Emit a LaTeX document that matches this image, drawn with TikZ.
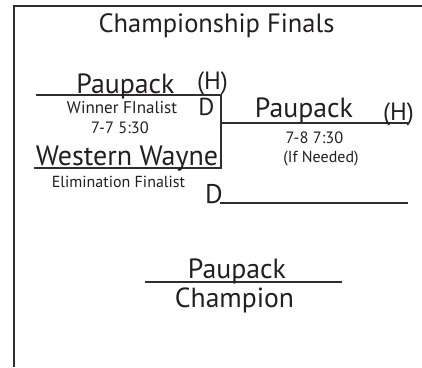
\documentclass[tikz,border=0pt]{standalone}
\usepackage{fontspec}
\setmainfont{PT Sans}
\definecolor{ink}{HTML}{231F20}
\definecolor{rule}{HTML}{2E2E2E}
\tikzset{
  lbl/.style={anchor=base, inner sep=0pt, outer sep=0pt, text=ink},
  rl/.style={draw=rule, line width=2pt},
}
\newcommand{\fs}[1]{\fontsize{#1}{#1}\selectfont}
\begin{document}
\begin{tikzpicture}[x=1pt,y=-1pt]
\useasboundingbox (0,0) rectangle (422,367);
% frame
\coordinate (tl) at (14,6);
\coordinate (tr) at (422,6);
\coordinate (bl) at (14,367);
\draw[rl] (tr) -- (tl) -- (bl);
% title
\node[lbl] (title) at (216.5,32) {\fs{26.5}Championship Finals};
% semifinal bracket
\coordinate (a1) at (36,95);
\coordinate (a2) at (221,95);
\coordinate (b1) at (34,168);
\coordinate (b2) at (221,168);
\draw[rl] (a1) -- (a2) -- (b2) -- (b1);
\node[lbl] (p1) at (125.5,93) {\fs{27.8}Paupack};
\node[lbl] (h1) at (212.5,89.5) {\fs{25}(H)};
\node[lbl] (d1) at (206.5,115) {\fs{24.5}D};
\node[lbl] (wf) at (122,113) {\fs{17}Winner FInalist};
\node[lbl] (t1) at (120,133) {\fs{16.4}7-7 5:30};
\node[lbl] (ww) at (127,165) {\fs{28}Western Wayne};
\node[lbl] (ef) at (118.5,187) {\fs{16}Elimination Finalist};
% final bracket
\coordinate (c1) at (222,123);
\coordinate (c2) at (408,123);
\draw[rl] (c1) -- (c2);
\node[lbl] (p2) at (304,117) {\fs{27.8}Paupack};
\node[lbl] (h2) at (398.5,120) {\fs{25}(H)};
\node[lbl] (t2) at (314.5,143) {\fs{16.4}7-8 7:30};
\node[lbl] (ifn) at (321,162) {\fs{16}(If Needed)};
\coordinate (e1) at (220,203);
\coordinate (e2) at (408,203);
\draw[rl] (e1) -- (e2);
\node[lbl] (d2) at (214,203) {\fs{27}D};
% champion
\coordinate (f1) at (145,282);
\coordinate (f2) at (342,282);
\draw[rl] (f1) -- (f2);
\node[lbl] (p3) at (237,278) {\fs{27.8}Paupack};
\node[lbl] (ch) at (234.5,307) {\fs{27.6}Champion};
\end{tikzpicture}
\end{document}
